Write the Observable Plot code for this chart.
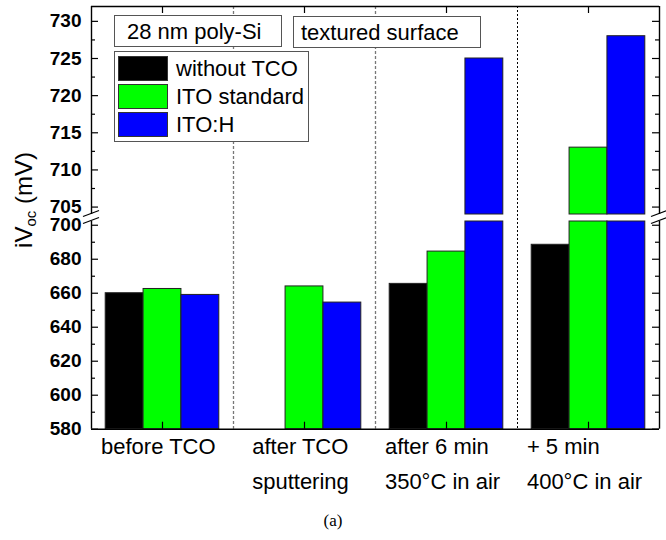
<!DOCTYPE html>
<html><head><meta charset="utf-8">
<script src="https://cdn.jsdelivr.net/npm/d3@7"></script>
<script src="https://cdn.jsdelivr.net/npm/@observablehq/plot@0.6"></script>
<style>
body{margin:0;background:#fff;font-family:"Liberation Sans",Arial,sans-serif;}
#wrap{position:relative;width:666px;height:540px;overflow:hidden;}
.box{position:absolute;background:#fff;border:1px solid #555;box-sizing:border-box;font-size:22px;line-height:1;white-space:nowrap;color:#000;}
.sw{position:absolute;width:50px;height:25px;box-sizing:border-box;border:1px solid #333;}
.lt{position:absolute;font-size:22px;line-height:1;white-space:nowrap;}
#ytitle{position:absolute;font-size:24px;white-space:nowrap;transform:translate(-50%,-50%) rotate(-90deg);}
#ytitle sub{font-size:15px;vertical-align:-4px;}
#cap{position:absolute;left:0;width:666px;text-align:center;font-family:"Liberation Serif","Times New Roman",serif;font-size:17px;}
</style></head>
<body><div id="wrap"></div>
<script>
// ---- data ----
const categories = ["before TCO", "after TCO\nsputtering", "after 6 min\n350°C in air", "+ 5 min\n400°C in air"];
const series = ["without TCO", "ITO standard", "ITO:H"];
const withoutTCO  = [660, null, 665.5, 688.5];
const itoStandard = [662.5, 664, 684.5, 713];
const itoH        = [659, 654.5, 725, 728];
const seriesColors = ["#000000", "#00ff00", "#0000ff"];
const lowerTicks = [580, 600, 620, 640, 660, 680, 700];
const lowerMinor = [590, 610, 630, 650, 670, 690];
const upperTicks = [705, 710, 715, 720, 725, 730];
const upperMinor = [707.5, 712.5, 717.5, 722.5, 727.5];
const yLimits = [580, 732];
const yBreak = [702.2, 704];
const notes = ["28 nm poly-Si", "textured surface"];
const caption = "(a)";

// ---- layout ----
const W = 666, H = 540, mL = 91, mR = 7, mT = 6, mB = 111.3;
const plotW = W - mL - mR, plotH = H - mT - mB;
const yRange = [H - mB, 221, 214, mT];
const nCat = categories.length;
const pad = 0.1, bw = (1 - 2 * pad) / series.length;
const FONT = '"Liberation Sans", Arial, sans-serif';

const values = [withoutTCO, itoStandard, itoH];
const pieces = [];
categories.forEach((c, i) => series.forEach((s, j) => {
  const v = values[j][i];
  if (v == null) return;
  const x1 = i + pad + j * bw, x2 = x1 + bw;
  pieces.push({s, x1, x2, y1: yLimits[0], y2: Math.min(v, yBreak[0])});
  if (v > yBreak[1]) pieces.push({s, x1, x2, y1: yBreak[1], y2: v});
}));

// text measurement for left-aligned label blocks centred on the category
const ctx = document.createElement("canvas").getContext("2d");
ctx.font = `22px ${FONT}`;
const pxPerUnit = plotW / nCat;
const labelX = categories.map((c, i) => {
  const w = Math.max(...c.split("\n").map(l => ctx.measureText(l).width));
  return i + 0.5 - (w / 2 + 4) / pxPerUnit;
});
const centers = categories.map((c, i) => i + 0.5);

const chart = Plot.plot({
  width: W, height: H, marginLeft: mL, marginRight: mR, marginTop: mT, marginBottom: mB,
  style: {fontFamily: FONT, background: "white", color: "#000"},
  x: {type: "linear", domain: [0, nCat], axis: null},
  y: {type: "linear", domain: [yLimits[0], yBreak[0], yBreak[1], yLimits[1]], range: yRange},
  color: {domain: series, range: seriesColors},
  marks: [
    Plot.rect(pieces, {x1: "x1", x2: "x2", y1: "y1", y2: "y2", fill: "s", stroke: "#222", strokeWidth: 1}),
    Plot.ruleX([1, 2], {stroke: "#777", strokeWidth: 1.3, strokeDasharray: "3,2"}),
    Plot.ruleX([3], {stroke: "#000", strokeWidth: 1, strokeDasharray: "2,2"}),
    // frame (broken)
    Plot.ruleY([yLimits[0], yLimits[1]], {stroke: "#000", strokeWidth: 1.4}),
    Plot.ruleX([0, nCat], {y1: yLimits[0], y2: yBreak[0], stroke: "#000", strokeWidth: 1.4}),
    Plot.ruleX([0, nCat], {y1: yBreak[1], y2: yLimits[1], stroke: "#000", strokeWidth: 1.4}),
    // inward ticks
    Plot.ruleY([...lowerTicks, ...upperTicks], {insetRight: plotW - 7, stroke: "#000", strokeWidth: 1.2}),
    Plot.ruleY([...lowerMinor, ...upperMinor], {insetRight: plotW - 4, stroke: "#000", strokeWidth: 1.2}),
    Plot.ruleY([...lowerTicks, ...upperTicks], {insetLeft: plotW - 7, stroke: "#000", strokeWidth: 1.2}),
    Plot.ruleY([...lowerMinor, ...upperMinor], {insetLeft: plotW - 4, stroke: "#000", strokeWidth: 1.2}),
    Plot.ruleX(centers, {insetBottom: plotH - 7, stroke: "#000", strokeWidth: 1.2}),
    Plot.ruleX(centers, {insetTop: plotH - 7, stroke: "#000", strokeWidth: 1.2}),
    Plot.axisY({ticks: [...lowerTicks, ...upperTicks], tickSize: 0, tickPadding: 10, fontSize: 19, fontWeight: "bold", label: null, tickFormat: d => String(d)}),
    Plot.text(categories, {x: (d, i) => labelX[i], y: yLimits[0], text: d => d, textAnchor: "start", lineAnchor: "top", dy: 0, fontSize: 22, lineHeight: 1.6, fill: "#000"})
  ]
});

const wrap = document.getElementById("wrap");
chart.style.position = "absolute";
chart.style.left = "0px";
chart.style.top = "0px";
wrap.appendChild(chart);

// axis-break glyphs placed with the chart's own y scale
const ys = chart.scale("y");
const hi = ys.apply(yBreak[1]), lo = ys.apply(yBreak[0]);
const ns = "http://www.w3.org/2000/svg";
const ov = document.createElementNS(ns, "svg");
ov.setAttribute("width", W); ov.setAttribute("height", H);
ov.style.position = "absolute"; ov.style.left = "0"; ov.style.top = "0"; ov.style.pointerEvents = "none";
[mL, W - mR].forEach(x => {
  [hi, lo].forEach(yy => {
    const l = document.createElementNS(ns, "line");
    l.setAttribute("x1", x - 8); l.setAttribute("y1", yy + 2.5);
    l.setAttribute("x2", x + 8); l.setAttribute("y2", yy - 3.5);
    l.setAttribute("stroke", "#000"); l.setAttribute("stroke-width", "1.3");
    ov.appendChild(l);
  });
});
wrap.appendChild(ov);

// annotation boxes
function box(txt, left, top, w, h, padL) {
  const d = document.createElement("div");
  d.className = "box";
  Object.assign(d.style, {left: left + "px", top: top + "px", width: w + "px", height: h + "px", paddingLeft: padL + "px", paddingTop: "5px"});
  d.textContent = txt;
  wrap.appendChild(d);
}
box(notes[0], 114, 15, 168, 32, 12);
box(notes[1], 293, 16, 188, 32, 7);

// legend
const lg = document.createElement("div");
lg.className = "box";
Object.assign(lg.style, {left: "114px", top: "51px", width: "195px", height: "91px"});
wrap.appendChild(lg);
series.forEach((s, j) => {
  const sw = document.createElement("div");
  sw.className = "sw";
  Object.assign(sw.style, {left: "118px", top: (56 + 28 * j) + "px", background: seriesColors[j]});
  wrap.appendChild(sw);
  const t = document.createElement("div");
  t.className = "lt";
  Object.assign(t.style, {left: "176px", top: (58 + 28 * j) + "px"});
  t.textContent = s;
  wrap.appendChild(t);
});

// y title
const yt = document.createElement("div");
yt.id = "ytitle";
yt.innerHTML = "iV<sub>oc</sub> (mV)";
Object.assign(yt.style, {left: "24px", top: "200px"});
wrap.appendChild(yt);

// caption
const cp = document.createElement("div");
cp.id = "cap";
cp.style.top = "511px";
cp.textContent = caption;
wrap.appendChild(cp);
</script>
</body></html>
